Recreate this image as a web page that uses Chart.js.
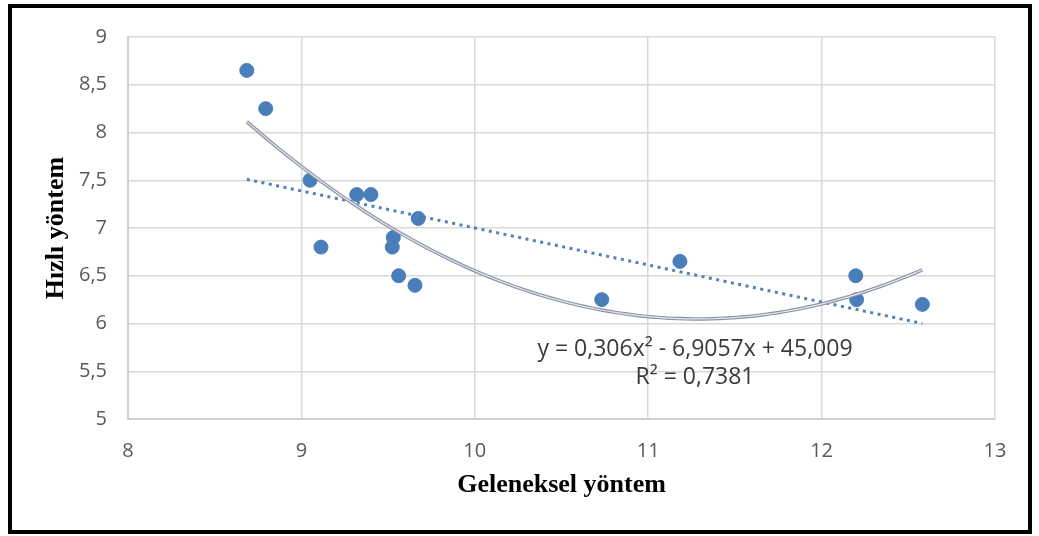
<!DOCTYPE html>
<html>
<head>
<meta charset="utf-8">
<script src="https://cdn.jsdelivr.net/npm/chart.js@4.4.0/dist/chart.umd.min.js"></script>
<style>
  html, body { margin: 0; padding: 0; background: #fff; }
  #wrap { width: 1039px; height: 536px; }
</style>
</head>
<body>
<div id="wrap"><canvas id="chart" width="1039" height="536"></canvas></div>
<script>
// measured values (x = Geleneksel yöntem, y = Hızlı yöntem)
const xValues = [8.685, 8.794, 9.05, 9.113, 9.319, 9.401, 9.674, 9.53, 9.524, 9.561, 9.655, 10.732, 11.183, 12.197, 12.202, 12.581];
const yValues = [8.65, 8.25, 7.5, 6.8, 7.35, 7.35, 7.1, 6.9, 6.8, 6.5, 6.4, 6.25, 6.65, 6.5, 6.25, 6.2];

// linear trend line ends
const linTrendX = [8.685, 12.581];
const linTrendY = [7.51, 6.0];

// polynomial trend line, as printed on the chart
const polyCoef = [0.306, -6.9057, 45.009];
const polyR2 = 0.7381;

const xTicks = [8, 9, 10, 11, 12, 13];
const yTicks = [5, 5.5, 6, 6.5, 7, 7.5, 8, 8.5, 9];

const fmt = v => String(v).replace('.', ',');

const points = xValues.map((x, i) => ({ x: x, y: yValues[i] }));
const linLine = linTrendX.map((x, i) => ({ x: x, y: linTrendY[i] }));
const polyLine = [];
for (let k = 0; k <= 80; k++) {
  const x = linTrendX[0] + (linTrendX[1] - linTrendX[0]) * k / 80;
  polyLine.push({ x: x, y: polyCoef[0] * x * x + polyCoef[1] * x + polyCoef[2] });
}

const eqText = 'y = ' + fmt(polyCoef[0]) + 'x\u00B2 - ' + fmt(-polyCoef[1]) + 'x + ' + fmt(polyCoef[2]);
const r2Text = 'R\u00B2 = ' + fmt(polyR2);

const frameAndLabel = {
  id: 'frameAndLabel',
  afterDatasetsDraw(chart) {
    const { ctx, scales } = chart;
    ctx.save();
    ctx.fillStyle = '#3a3a3a';
    ctx.font = '23px "Open Sans"';
    ctx.textAlign = 'center';
    ctx.textBaseline = 'middle';
    const cx = scales.x.getPixelForValue(11.27);
    ctx.fillText(eqText, cx, scales.y.getPixelForValue(5.73));
    ctx.fillText(r2Text, cx, scales.y.getPixelForValue(5.43));
    ctx.restore();
  },
  afterDraw(chart) {
    const ctx = chart.ctx;
    ctx.save();
    ctx.strokeStyle = '#000';
    ctx.lineWidth = 4;
    ctx.strokeRect(10, 6, 1020, 526);
    ctx.restore();
  }
};

new Chart(document.getElementById('chart'), {
  type: 'scatter',
  data: {
    datasets: [
      {
        data: polyLine,
        showLine: true,
        borderColor: '#e6e8ee',
        borderWidth: 1.2,
        pointRadius: 0,
        tension: 0
      },
      {
        data: polyLine,
        showLine: true,
        borderColor: '#8c92a4',
        borderWidth: 3.5,
        pointRadius: 0,
        tension: 0
      },
      {
        data: linLine,
        showLine: true,
        borderColor: '#4f81bd',
        borderWidth: 3,
        borderDash: [3, 4.5],
        pointRadius: 0
      },
      {
        data: points,
        backgroundColor: '#4a7ebb',
        borderColor: '#4a7ebb',
        pointRadius: 7,
        pointHoverRadius: 7
      }
    ]
  },
  options: {
    responsive: false,
    animation: false,
    layout: { padding: { left: 0, top: 37, right: 44, bottom: 0 } },
    plugins: {
      legend: { display: false },
      tooltip: { enabled: false }
    },
    scales: {
      x: {
        type: 'linear',
        min: 8,
        max: 13,
        afterBuildTicks: s => { s.ticks = xTicks.map(v => ({ value: v })); },
        afterFit: s => { s.height = 117; },
        ticks: {
          padding: 20,
          color: '#595959',
          font: { family: 'Open Sans', size: 20 },
          callback: v => fmt(v)
        },
        grid: { color: '#d9d9d9', lineWidth: 1.5, drawTicks: false },
        border: { color: '#d0d0d0', width: 2 },
        title: {
          display: true,
          text: 'Geleneksel yöntem',
          color: '#000',
          font: { family: 'Liberation Serif', size: 26, weight: 'bold' },
          padding: { top: 0, bottom: 35 }
        }
      },
      y: {
        type: 'linear',
        min: 5,
        max: 9,
        afterBuildTicks: s => { s.ticks = yTicks.map(v => ({ value: v })); },
        afterFit: s => { s.width = 128; },
        ticks: {
          padding: 21,
          color: '#595959',
          font: { family: 'Open Sans', size: 20 },
          callback: v => fmt(v)
        },
        grid: { color: '#d9d9d9', lineWidth: 1.5, drawTicks: false },
        border: { color: '#d0d0d0', width: 2 },
        title: {
          display: true,
          text: 'Hızlı yöntem',
          color: '#000',
          font: { family: 'Liberation Serif', size: 26, weight: 'bold' },
          padding: { top: 41, bottom: 0 }
        }
      }
    }
  },
  plugins: [frameAndLabel]
});
</script>
</body>
</html>
